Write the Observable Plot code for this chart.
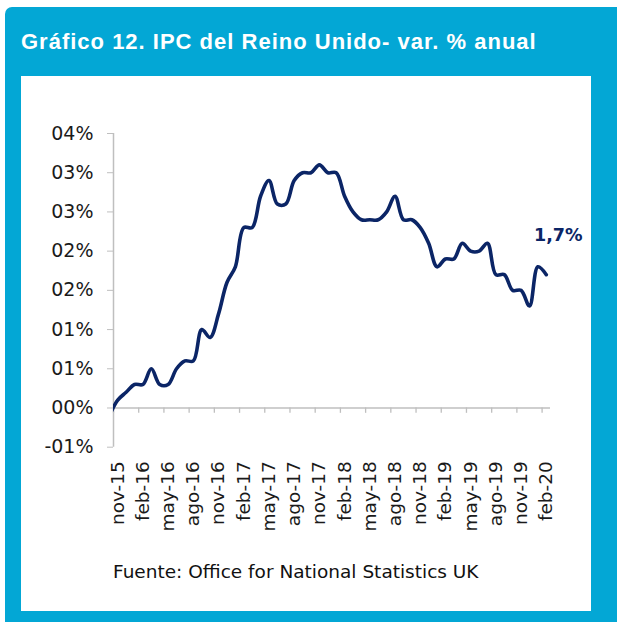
<!DOCTYPE html>
<html><head><meta charset="utf-8">
<script src="https://cdn.jsdelivr.net/npm/d3@7"></script>
<script src="https://cdn.jsdelivr.net/npm/@observablehq/plot@0.6"></script>
<style>
body{margin:0;background:#fff;}
#page{position:relative;width:617px;height:622px;overflow:hidden;}
#frame{position:absolute;left:5px;top:7px;width:612px;height:615px;background:#03A7D5;border-top-left-radius:7px;}
#inner{position:absolute;left:21px;top:76px;width:570px;height:535px;background:#fff;}
#title{position:absolute;left:21px;top:31px;font:bold 22px "Liberation Sans",Arial,sans-serif;line-height:22px;color:#fff;letter-spacing:1px;white-space:nowrap;}
#chart{position:absolute;left:21px;top:76px;}
#source{position:absolute;left:113px;top:563px;font:18.5px "DejaVu Sans",sans-serif;line-height:18.5px;color:#111;white-space:nowrap;}
</style></head>
<body>
<div id="page">
  <div id="frame"></div>
  <div id="inner"></div>
  <div id="title">Gráfico 12. IPC del Reino Unido- var. % anual</div>
  <div id="chart"></div>
  <div id="source">Fuente: Office for National Statistics UK</div>
</div>
<script>
const months = [
  "oct-15","nov-15","dic-15",
  "ene-16","feb-16","mar-16","abr-16","may-16","jun-16","jul-16","ago-16","sep-16","oct-16","nov-16","dic-16",
  "ene-17","feb-17","mar-17","abr-17","may-17","jun-17","jul-17","ago-17","sep-17","oct-17","nov-17","dic-17",
  "ene-18","feb-18","mar-18","abr-18","may-18","jun-18","jul-18","ago-18","sep-18","oct-18","nov-18","dic-18",
  "ene-19","feb-19","mar-19","abr-19","may-19","jun-19","jul-19","ago-19","sep-19","oct-19","nov-19","dic-19",
  "ene-20","feb-20"
];
const cpi = [
  -0.1, 0.1, 0.2,
  0.3, 0.3, 0.5, 0.3, 0.3, 0.5, 0.6, 0.6, 1.0, 0.9, 1.2, 1.6,
  1.8, 2.3, 2.3, 2.7, 2.9, 2.6, 2.6, 2.9, 3.0, 3.0, 3.1, 3.0,
  3.0, 2.7, 2.5, 2.4, 2.4, 2.4, 2.5, 2.7, 2.4, 2.4, 2.3, 2.1,
  1.8, 1.9, 1.9, 2.1, 2.0, 2.0, 2.1, 1.7, 1.7, 1.5, 1.5, 1.3,
  1.8, 1.7
];
const xLabels = ["nov-15","feb-16","may-16","ago-16","nov-16","feb-17","may-17","ago-17","nov-17",
  "feb-18","may-18","ago-18","nov-18","feb-19","may-19","ago-19","nov-19","feb-20"];
const yTicks = [-0.5, 0, 0.5, 1, 1.5, 2, 2.5, 3, 3.5];
const yTickLabels = ["-01%","00%","01%","01%","02%","02%","03%","03%","04%"];

const first = months.indexOf(xLabels[0]);
const data = months.map((m, k) => ({i: k - first, month: m, value: cpi[k]}));
const xTickIdx = xLabels.map(l => months.indexOf(l) - first);
const boundaries = xTickIdx.map(d => d - 0.5);
const last = data[data.length - 1];
const xDomain = [-0.5, last.i + 0.5];
const yDomain = [yTicks[0], yTicks[yTicks.length - 1]];

const gray = "#BFBFBF";
const navy = "#0B2566";

const chart = Plot.plot({
  width: 570,
  height: 460,
  marginLeft: 92,
  marginRight: 41,
  marginTop: 57,
  marginBottom: 89.3,
  style: {fontFamily: "DejaVu Sans", fontSize: "18px", background: "transparent", color: "#222"},
  x: {type: "linear", domain: xDomain},
  y: {type: "linear", domain: yDomain},
  marks: [
    Plot.ruleX([xDomain[0]], {y1: yDomain[0], y2: yDomain[1], stroke: gray, strokeWidth: 1.5}),
    Plot.ruleY([0], {x1: xDomain[0], x2: xDomain[1], stroke: gray, strokeWidth: 1.5}),
    Plot.ruleX(boundaries, {x: d => d, y1: 0, y2: -0.068, stroke: gray, strokeWidth: 1.3}),
    Plot.axisY({ticks: yTicks, tickFormat: d => yTickLabels[yTicks.indexOf(d)], tickSize: 6, tickPadding: 14,
      stroke: gray, fill: "#1a1a1a", fontSize: 19, label: null}),
    Plot.axisX({ticks: xTickIdx, tickFormat: d => xLabels[xTickIdx.indexOf(d)], tickRotate: -90, tickSize: 0,
      tickPadding: 14, fill: "#1a1a1a", fontSize: 18.5, label: null}),
    Plot.line(data, {x: "i", y: "value", curve: "catmull-rom", stroke: navy, strokeWidth: 3.6, clip: true}),
    Plot.text([last], {x: "i", y: "value", text: d => d.value.toFixed(1).replace(".", ",") + "%",
      dx: 12, dy: -39, fontWeight: "bold", fontSize: 17.5, fill: navy, fontFamily: "DejaVu Sans"})
  ]
});
document.getElementById("chart").appendChild(chart);
</script>
</body></html>
